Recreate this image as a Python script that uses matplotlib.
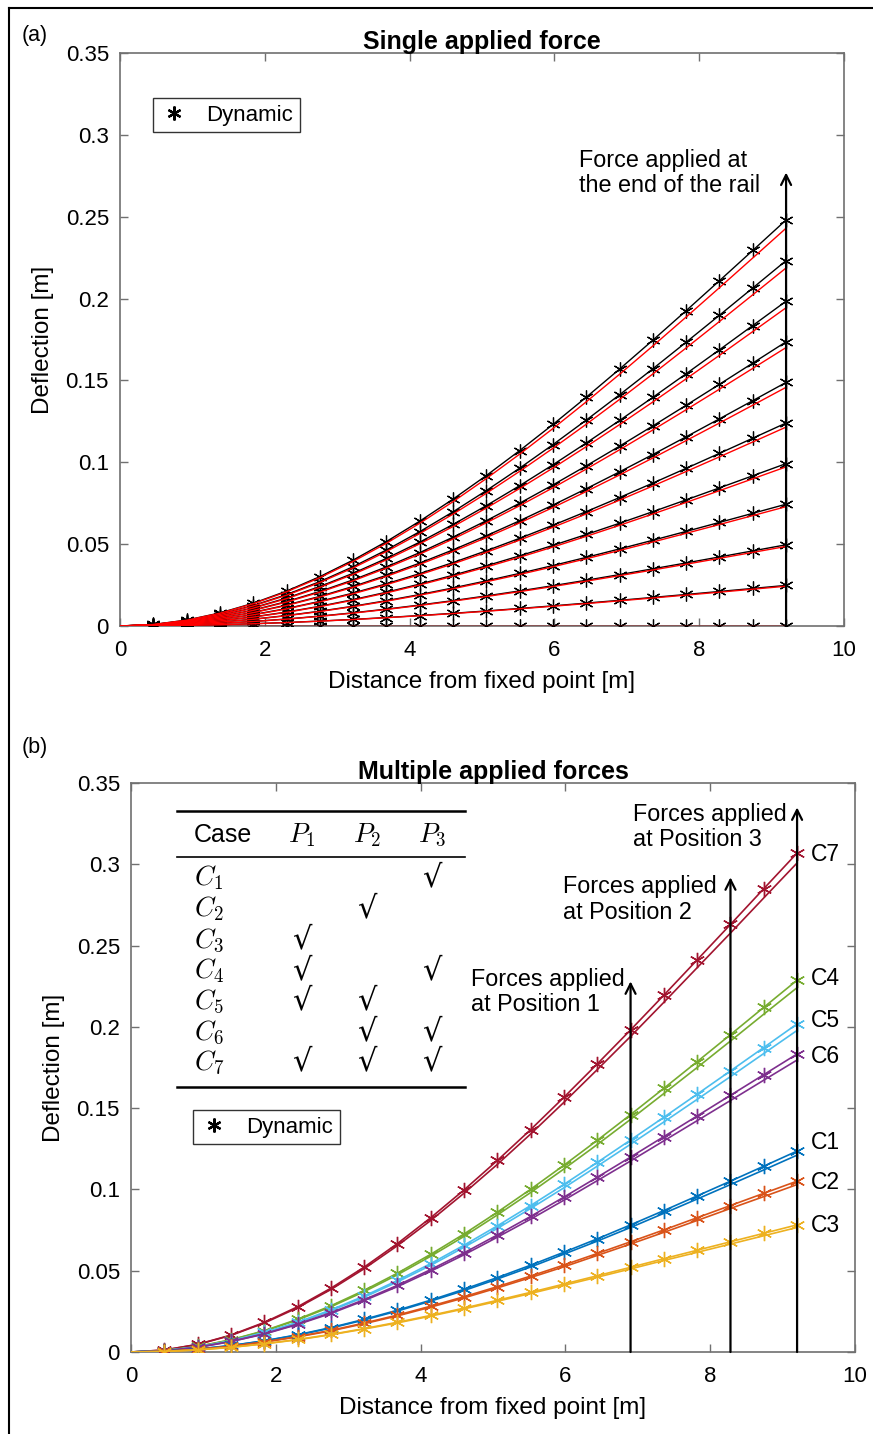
import matplotlib
matplotlib.use("Agg")
import matplotlib.pyplot as plt
import numpy as np
from matplotlib.lines import Line2D

plt.rcParams['font.family'] = ['Liberation Sans', 'DejaVu Sans']
plt.rcParams['mathtext.fontset'] = 'cm'

# ---------------- data ----------------
x_pts = [0.0, 0.46, 0.92, 1.38, 1.84, 2.30, 2.76, 3.22, 3.68, 4.14, 4.60,
         5.06, 5.52, 5.98, 6.44, 6.90, 7.36, 7.82, 8.28, 8.74, 9.20]

# panel (a): all curves share one normalised deflection shape (tip = 1)
a_shape = [0.0, 0.0037, 0.0145, 0.0321, 0.0560, 0.0859, 0.1215, 0.1623, 0.2080, 0.2582, 0.3125,
           0.3706, 0.4320, 0.4964, 0.5635, 0.6328, 0.7040, 0.7767, 0.8505, 0.9251, 1.0]
a_tip_dynamic = [0.0, 0.0248, 0.0496, 0.0744, 0.0992, 0.124, 0.1488, 0.1736, 0.1984, 0.2232, 0.248]
a_tip_static = [0.0, 0.0243, 0.0486, 0.0729, 0.0972, 0.1215, 0.1458, 0.1701, 0.1944, 0.2187, 0.2430]

# panel (b)
case_labels = ['C7', 'C4', 'C5', 'C6', 'C1', 'C2', 'C3']
case_colors = ['#A2142F', '#77AC30', '#4DBEEE', '#7E2F8E', '#0072BD', '#D95319', '#EDB120']
b_dynamic = {
    'C7': [0.0, 0.0012, 0.0047, 0.0104, 0.0182, 0.0278, 0.0392, 0.0522, 0.0667, 0.0826, 0.0997,
           0.1178, 0.1368, 0.1567, 0.1772, 0.1981, 0.2195, 0.2412, 0.2630, 0.2850, 0.3069],
    'C4': [0.0, 0.0009, 0.0034, 0.0075, 0.0131, 0.0201, 0.0284, 0.0379, 0.0485, 0.0601, 0.0726,
           0.0860, 0.1001, 0.1149, 0.1302, 0.1460, 0.1622, 0.1786, 0.1952, 0.2120, 0.2287],
    'C5': [0.0, 0.0008, 0.0031, 0.0069, 0.0120, 0.0183, 0.0259, 0.0344, 0.0440, 0.0544, 0.0657,
           0.0776, 0.0901, 0.1031, 0.1166, 0.1304, 0.1444, 0.1586, 0.1729, 0.1873, 0.2018],
    'C6': [0.0, 0.0007, 0.0029, 0.0065, 0.0112, 0.0172, 0.0242, 0.0322, 0.0410, 0.0507, 0.0610,
           0.0720, 0.0834, 0.0953, 0.1075, 0.1199, 0.1325, 0.1452, 0.1579, 0.1706, 0.1833],
    'C1': [0.0, 0.0005, 0.0018, 0.0040, 0.0069, 0.0106, 0.0150, 0.0201, 0.0257, 0.0319, 0.0386,
           0.0458, 0.0534, 0.0614, 0.0696, 0.0782, 0.0870, 0.0960, 0.1051, 0.1143, 0.1236],
    'C2': [0.0, 0.0004, 0.0016, 0.0035, 0.0062, 0.0095, 0.0133, 0.0178, 0.0227, 0.0282, 0.0340,
           0.0402, 0.0467, 0.0535, 0.0606, 0.0678, 0.0751, 0.0826, 0.0901, 0.0976, 0.1051],
    'C3': [0.0, 0.0003, 0.0013, 0.0029, 0.0051, 0.0077, 0.0108, 0.0144, 0.0183, 0.0225, 0.0270,
           0.0318, 0.0367, 0.0418, 0.0469, 0.0521, 0.0574, 0.0626, 0.0678, 0.0730, 0.0782],
}
b_static = {
    'C7': [0.0, 0.0012, 0.0046, 0.0102, 0.0178, 0.0272, 0.0384, 0.0512, 0.0654, 0.0809, 0.0977,
           0.1154, 0.1341, 0.1536, 0.1737, 0.1941, 0.2151, 0.2364, 0.2577, 0.2793, 0.3008],
    'C4': [0.0, 0.0009, 0.0033, 0.0074, 0.0128, 0.0197, 0.0278, 0.0371, 0.0475, 0.0589, 0.0711,
           0.0843, 0.0981, 0.1126, 0.1276, 0.1431, 0.1590, 0.1750, 0.1913, 0.2078, 0.2241],
    'C5': [0.0, 0.0008, 0.0030, 0.0068, 0.0118, 0.0179, 0.0254, 0.0337, 0.0431, 0.0533, 0.0644,
           0.0760, 0.0883, 0.1010, 0.1143, 0.1278, 0.1415, 0.1554, 0.1694, 0.1836, 0.1978],
    'C6': [0.0, 0.0007, 0.0028, 0.0064, 0.0110, 0.0169, 0.0237, 0.0316, 0.0402, 0.0497, 0.0598,
           0.0706, 0.0817, 0.0934, 0.1054, 0.1175, 0.1299, 0.1423, 0.1547, 0.1672, 0.1796],
    'C1': [0.0, 0.0004, 0.0018, 0.0039, 0.0068, 0.0104, 0.0147, 0.0197, 0.0252, 0.0313, 0.0378,
           0.0449, 0.0523, 0.0602, 0.0682, 0.0766, 0.0853, 0.0941, 0.1030, 0.1120, 0.1211],
    'C2': [0.0, 0.0004, 0.0016, 0.0034, 0.0061, 0.0093, 0.0130, 0.0174, 0.0222, 0.0276, 0.0333,
           0.0394, 0.0458, 0.0524, 0.0594, 0.0664, 0.0736, 0.0809, 0.0883, 0.0956, 0.1030],
    'C3': [0.0, 0.0003, 0.0013, 0.0028, 0.0050, 0.0075, 0.0106, 0.0141, 0.0179, 0.0221, 0.0265,
           0.0312, 0.0360, 0.0410, 0.0460, 0.0511, 0.0563, 0.0613, 0.0664, 0.0715, 0.0766],
}
case_label_y = [0.306, 0.230, 0.204, 0.182, 0.129, 0.104, 0.078]

force_pos = [6.90, 8.28, 9.20]
force_arrow_top = [0.228, 0.292, 0.335]
force_text = ['Forces applied\nat Position 1', 'Forces applied\nat Position 2', 'Forces applied\nat Position 3']
force_text_xy = [(4.70, 0.2214), (5.97, 0.2783), (6.93, 0.3229)]

table_cases = ['$C_1$', '$C_2$', '$C_3$', '$C_4$', '$C_5$', '$C_6$', '$C_7$']
table_P1 = [0, 0, 1, 1, 1, 0, 1]
table_P2 = [0, 1, 0, 0, 1, 1, 1]
table_P3 = [1, 0, 0, 1, 0, 1, 1]

xticks = [0, 2, 4, 6, 8, 10]
yticks = [0, 0.05, 0.1, 0.15, 0.2, 0.25, 0.3, 0.35]
ytick_labels = ['0', '0.05', '0.1', '0.15', '0.2', '0.25', '0.3', '0.35']

# ---------------- figure ----------------
W, H = 873, 1434
fig = plt.figure(figsize=(W / 100, H / 100), dpi=100)

ax_a = fig.add_axes([120 / W, 1 - 626 / H, 724 / W, 573 / H])
ax_b = fig.add_axes([131 / W, 1 - 1352 / H, 724 / W, 569 / H])

AST = (6, 2, 0)
SP_COL = '#707070'


def style_axes(ax, title):
    ax.set_xlim(0, 10)
    ax.set_ylim(0, 0.35)
    ax.set_xticks(xticks)
    ax.set_xticklabels([str(t) for t in xticks])
    ax.set_yticks(yticks)
    ax.set_yticklabels(ytick_labels)
    ax.tick_params(direction='in', top=True, right=True, length=6, width=1.0,
                   color=SP_COL, labelsize=16)
    ax.tick_params(axis='x', pad=10)
    ax.tick_params(axis='y', pad=8)
    for s in ax.spines.values():
        s.set_color(SP_COL)
        s.set_linewidth(1.2)
    ax.set_xlabel('Distance from fixed point [m]', fontsize=17.5, labelpad=7)
    ax.set_ylabel('Deflection [m]', fontsize=17.5, labelpad=8)
    ax.set_title(title, fontsize=18, fontweight='bold', pad=3)


def dyn_legend(ax, anchor):
    handle = Line2D([], [], ls='none', marker=AST, color='black', markersize=10,
                    markeredgewidth=1.6)
    leg = ax.legend([handle], ['Dynamic'], loc='upper left', bbox_to_anchor=anchor,
                    borderaxespad=0, fontsize=16, frameon=True, fancybox=False,
                    edgecolor='black', handlelength=1.3, handletextpad=0.8, borderpad=0.3)
    leg.get_frame().set_linewidth(1.0)
    return leg


# panel (a)
shape = np.array(a_shape)
for tip in a_tip_dynamic:
    ax_a.plot(x_pts, tip * shape, color='black', lw=1.0, marker=AST, markersize=10,
              markeredgewidth=0.9, markevery=list(range(1, len(x_pts))), zorder=3)
for tip in a_tip_static:
    ax_a.plot(x_pts, tip * shape, color='#FF0000', lw=1.0, zorder=4)

ax_a.annotate('', xy=(9.2, 0.277), xytext=(9.2, 0.0),
              arrowprops=dict(arrowstyle='->', color='black', lw=1.6,
                              mutation_scale=18, shrinkA=0, shrinkB=0), zorder=5)
ax_a.text(6.34, 0.2767, 'Force applied at\nthe end of the rail', fontsize=16.8,
          ha='left', va='center', linespacing=1.15)
style_axes(ax_a, 'Single applied force')
dyn_legend(ax_a, (0.0456, 0.9215))

# panel (b)
for lab, col in zip(case_labels, case_colors):
    ax_b.plot(x_pts, b_static[lab], color=col, lw=1.2, zorder=3)
    ax_b.plot(x_pts, b_dynamic[lab], color=col, lw=1.2, marker=AST, markersize=11,
              markeredgewidth=1.0, markevery=list(range(1, len(x_pts))), zorder=3)

for xp, top in zip(force_pos, force_arrow_top):
    ax_b.annotate('', xy=(xp, top), xytext=(xp, 0.0),
                  arrowprops=dict(arrowstyle='->', color='black', lw=1.6,
                                  mutation_scale=18, shrinkA=0, shrinkB=0), zorder=5)
for txt, (tx, ty) in zip(force_text, force_text_xy):
    ax_b.text(tx, ty, txt, fontsize=16.8, ha='left', va='center', linespacing=1.15)
for lab, ly in zip(case_labels, case_label_y):
    ax_b.text(9.39, ly, lab, fontsize=16.5, ha='left', va='center')

style_axes(ax_b, 'Multiple applied forces')

# table
tr = ax_b.transAxes
x0t, x1t = 0.0635, 0.4613
for yl in (0.9508, 0.4657):
    ax_b.plot([x0t, x1t], [yl, yl], color='black', lw=1.8, transform=tr, clip_on=False)
ax_b.plot([x0t, x1t], [0.870, 0.870], color='black', lw=1.2, transform=tr, clip_on=False)
col_x = [0.087, 0.236, 0.326, 0.4157]
ax_b.text(col_x[0], 0.9086, 'Case', fontsize=18, ha='left', va='center', transform=tr)
for cx, ph in zip(col_x[1:], ['$P_1$', '$P_2$', '$P_3$']):
    ax_b.text(cx, 0.9086, ph, fontsize=19.5, ha='center', va='center', transform=tr)
row_y = [0.833, 0.7786, 0.724, 0.6696, 0.6169, 0.5624, 0.5097]
for i, ry in enumerate(row_y):
    ax_b.text(col_x[0], ry, table_cases[i], fontsize=19.5, ha='left', va='center', transform=tr)
    for cx, flags in zip(col_x[1:], [table_P1, table_P2, table_P3]):
        if flags[i]:
            ax_b.text(cx, ry, '\u221a', fontsize=22, ha='center', va='center',
                      transform=tr, family=['DejaVu Serif', 'DejaVu Sans'])

dyn_legend(ax_b, (0.0856, 0.4253))

# panel tags and frame
fig.text(22 / W, 1 - 35 / H, '(a)', fontsize=15.5, ha='left', va='center')
fig.text(22 / W, 1 - 748 / H, '(b)', fontsize=15.5, ha='left', va='center')
fig.add_artist(Line2D([9 / W, 9 / W], [0, 1 - 8 / H], transform=fig.transFigure,
                      color='black', lw=1.5))
fig.add_artist(Line2D([9 / W, 1], [1 - 8 / H, 1 - 8 / H], transform=fig.transFigure,
                      color='black', lw=1.5))

fig.savefig('out.png', dpi=100)
